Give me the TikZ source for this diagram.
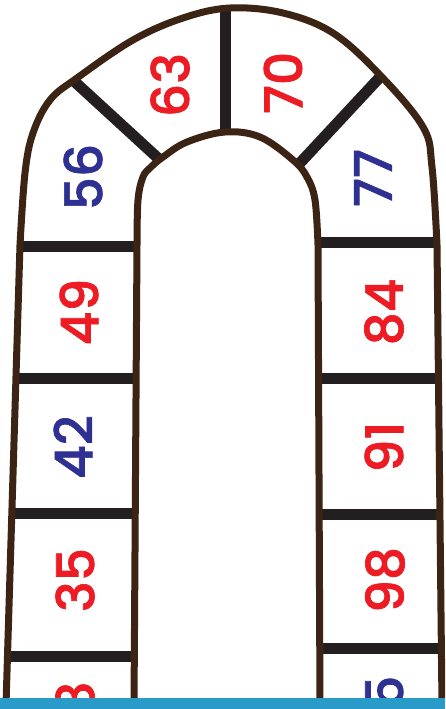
\documentclass[tikz,border=0pt]{standalone}
\usepackage{fontspec}
\newfontfamily\numfont{Poppins}[UprightFont=* Medium, UprightFeatures={FakeBold=1.3}]
\definecolor{outl}{HTML}{3C2415}
\definecolor{divc}{HTML}{231F20}
\definecolor{nred}{HTML}{ED1C24}
\definecolor{nblue}{HTML}{2E3192}
\definecolor{barblue}{HTML}{2A9AC8}
\tikzset{
  edge/.style={draw=outl, line width=7pt, line join=round},
  divider/.style={draw=divc, line width=11pt},
  num/.style={rotate=90, font=\numfont\fontsize{52}{52}\selectfont, inner sep=0pt},
  rednum/.style={num, text=nred},
  bluenum/.style={num, text=nblue}
}
\begin{document}
\begin{tikzpicture}[x=1pt,y=-1pt]
\useasboundingbox (0,0) rectangle (445,709);
\fill[white] (0,0) rectangle (445,709);
\begin{scope}
\clip (0,0) rectangle (445,698);
% dividers
\draw[divider] (20,246) -- (136,246);
\draw[divider] (15,378) -- (135,378);
\draw[divider] (10,513) -- (135,513);
\draw[divider] (8,656) -- (134,656);
\draw[divider] (318,242) -- (439,242);
\draw[divider] (320,378) -- (441,378);
\draw[divider] (321,514) -- (442,514);
\draw[divider] (321,648) -- (443,648);
\draw[divider] (75,82) -- (160,160);
\draw[divider] (225,8) -- (225,132);
\draw[divider] (381,76) -- (300,163);
% outer edge
\draw[edge] (6,705) -- (20,245) plot[smooth, tension=0.6] coordinates {(20,245) (25,173) (33,133) (50,100) (77,78) (133,40) (183,18) (230,8) (283,13) (333,33) (380,75) (423,127) (432,167) (437,245)} -- (442,705);
% inner edge
\draw[edge] (134,705) -- (137,245) plot[smooth, tension=0.6] coordinates {(137,245) (138,200) (143,177) (150,168) (163,157) (187,142) (225,132) (260,137) (293,160) (307,177) (315,200) (318,245)} -- (320,705);
% numbers
\node[bluenum] (n56) at (83,177) {56};
\node[rednum] (n63) at (170,85) {63};
\node[rednum] (n70) at (283,83) {70};
\node[bluenum] (n77) at (373,178) {77};
\node[rednum] (n49) at (79,312) {49};
\node[bluenum] (n42) at (73,447) {42};
\node[rednum] (n35) at (75,580) {35};
\node[rednum] (n28) at (75,713) {28};
\node[rednum] (n84) at (384,312) {84};
\node[rednum] (n91) at (384,447) {91};
\node[rednum] (n98) at (385,580) {98};
\node[bluenum] (n105) at (384,718) {105};
\end{scope}
\fill[barblue] (0,698) rectangle (445,709);
\end{tikzpicture}
\end{document}
